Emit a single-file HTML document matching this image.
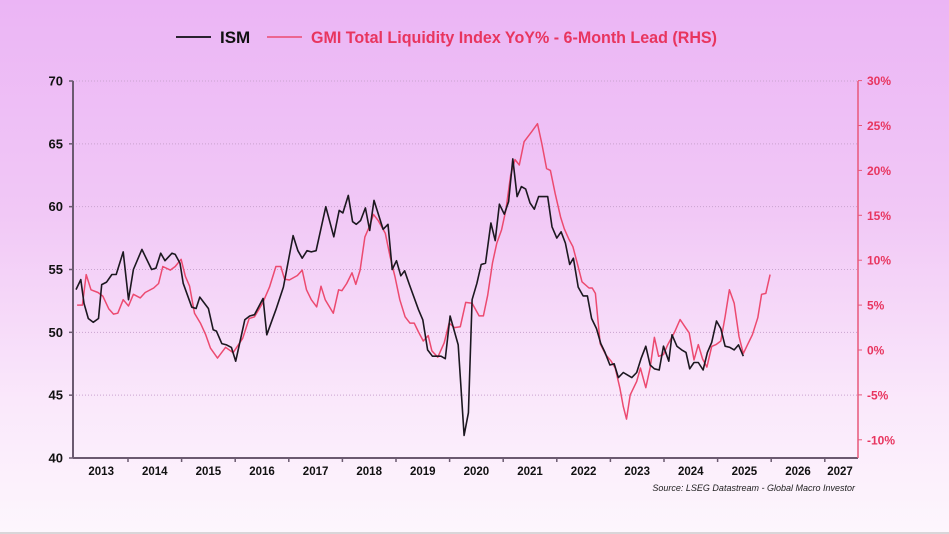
<!DOCTYPE html>
<html><head><meta charset="utf-8"><style>
html,body{margin:0;padding:0;}
body{width:949px;height:534px;overflow:hidden;background:linear-gradient(#ebb5f5 0%,#f1c8f6 40%,#fae8fb 75%,#fdf6fd 100%);font-family:"Liberation Sans",sans-serif;position:relative;}
svg{position:absolute;left:0;top:0;}
</style></head><body>
<svg width="949" height="534">
<rect x="0" y="532" width="949" height="2" fill="#d9d6d9"/>
<g id="grid"></g><g id="axes"></g><g id="series"></g>
<g>
<line x1="176" y1="37" x2="211" y2="37" stroke="#2a2230" stroke-width="2"/>
<text x="220" y="43" font-size="17" font-weight="bold" fill="#111">ISM</text>
<line x1="267" y1="37" x2="302" y2="37" stroke="#ec4a70" stroke-width="1.5"/>
<text x="311" y="43" font-size="17" font-weight="bold" fill="#e8355f" textLength="406" lengthAdjust="spacingAndGlyphs">GMI Total Liquidity Index YoY% - 6-Month Lead (RHS)</text>
</g>
<text x="855" y="491" font-size="9" font-style="italic" fill="#222" text-anchor="end">Source: LSEG Datastream - Global Macro Investor</text>
</svg>
<script>
const leftTicks=[70,65,60,55,50,45,40];
const rightTicks=[30,25,20,15,10,5,0,-5,-10];
const years=[2013,2014,2015,2016,2017,2018,2019,2020,2021,2022,2023,2024,2025,2026,2027];
const ismDates=[0.03,0.12,0.18,0.26,0.35,0.45,0.51,0.60,0.70,0.78,0.91,1.01,1.10,1.26,1.44,1.52,1.61,1.69,1.82,1.88,1.97,2.03,2.19,2.27,2.34,2.50,2.59,2.65,2.75,2.84,2.93,3.01,3.18,3.27,3.36,3.52,3.59,3.69,3.76,3.90,4.08,4.17,4.25,4.34,4.42,4.51,4.69,4.84,4.94,5.01,5.11,5.19,5.26,5.34,5.43,5.51,5.59,5.76,5.85,5.93,6.01,6.09,6.16,6.25,6.42,6.50,6.59,6.68,6.84,6.92,7.01,7.16,7.27,7.35,7.42,7.51,7.59,7.67,7.77,7.85,7.93,8.02,8.10,8.18,8.26,8.34,8.42,8.50,8.58,8.66,8.83,8.91,9.00,9.08,9.16,9.24,9.31,9.40,9.49,9.57,9.65,9.74,9.82,9.90,9.99,10.07,10.15,10.24,10.32,10.40,10.49,10.57,10.66,10.74,10.82,10.91,10.99,11.09,11.15,11.24,11.33,11.41,11.48,11.56,11.64,11.73,11.81,11.89,11.98,12.06,12.14,12.23,12.31,12.39,12.48];
const ismVals=[53.4,54.2,52.3,51.1,50.8,51.1,53.8,54.0,54.6,54.6,56.4,52.6,55.0,56.6,55.0,55.1,56.3,55.7,56.3,56.2,55.5,53.9,52.0,51.9,52.8,51.9,50.2,50.1,49.1,49.0,48.8,47.7,51.0,51.3,51.4,52.7,49.8,51.0,51.8,53.6,57.7,56.5,55.9,56.5,56.4,56.5,60.0,57.6,59.7,59.5,60.9,58.8,58.6,58.9,59.9,58.1,60.5,58.2,58.6,55.0,55.7,54.5,54.9,53.8,51.8,51.0,48.6,48.1,48.1,47.9,51.3,49.0,41.8,43.6,52.6,53.9,55.4,55.5,58.7,57.3,60.2,59.4,60.4,63.8,60.8,61.6,61.4,60.3,59.8,60.8,60.8,58.4,57.5,58.0,57.1,55.4,55.9,53.6,52.9,52.9,51.1,50.3,49.1,48.4,47.4,47.5,46.4,46.8,46.6,46.4,46.8,47.9,48.9,47.4,47.1,47.0,48.9,47.7,49.8,48.9,48.6,48.4,47.1,47.6,47.6,47.0,48.4,49.2,50.9,50.3,48.9,48.8,48.6,49.0,48.1];
const gmiDates=[0.05,0.15,0.22,0.31,0.44,0.53,0.64,0.73,0.81,0.91,1.01,1.10,1.23,1.32,1.48,1.57,1.65,1.79,1.88,1.99,2.07,2.15,2.24,2.35,2.45,2.54,2.67,2.82,2.96,3.04,3.14,3.26,3.36,3.51,3.64,3.76,3.85,3.92,4.01,4.16,4.25,4.33,4.42,4.52,4.60,4.68,4.83,4.93,4.99,5.08,5.18,5.25,5.33,5.42,5.50,5.58,5.67,5.80,5.89,5.98,6.07,6.17,6.26,6.34,6.42,6.51,6.60,6.67,6.78,6.90,6.99,7.09,7.20,7.30,7.42,7.55,7.63,7.71,7.80,7.88,7.97,8.05,8.14,8.22,8.30,8.39,8.53,8.64,8.72,8.81,8.88,8.97,9.07,9.14,9.22,9.30,9.38,9.47,9.60,9.66,9.72,9.81,9.91,10.01,10.09,10.18,10.24,10.30,10.37,10.49,10.56,10.66,10.74,10.82,10.90,10.99,11.07,11.19,11.30,11.39,11.47,11.56,11.64,11.72,11.80,11.89,11.97,12.06,12.14,12.22,12.31,12.40,12.48,12.56,12.65,12.75,12.82,12.90,12.98];
const gmiVals=[5.0,5.0,8.4,6.7,6.4,6.0,4.6,4.0,4.1,5.6,4.9,6.2,5.8,6.4,6.9,7.4,9.3,8.9,9.3,10.1,8.2,7.1,4.1,3.0,1.7,0.2,-0.9,0.3,-0.3,0.4,1.3,3.5,3.7,5.2,7.0,9.3,9.3,7.9,7.8,8.3,8.9,6.7,5.6,4.8,7.1,5.6,4.1,6.7,6.6,7.4,8.6,7.3,8.9,12.6,13.7,15.1,14.4,13.0,10.4,8.2,5.6,3.7,3.0,3.0,2.0,1.0,1.6,-0.1,-0.8,0.8,3.0,2.5,2.6,5.3,5.2,3.8,3.8,6.1,9.7,11.9,13.4,15.6,19.5,21.2,20.6,23.2,24.3,25.2,23.0,20.2,20.0,17.4,14.8,13.5,12.4,11.5,9.7,7.6,6.9,6.9,6.3,0.7,-0.5,-1.2,-2.0,-4.3,-6.3,-7.7,-5.0,-3.5,-2.0,-4.2,-2.0,1.4,-0.7,-0.5,0.6,1.9,3.4,2.6,1.9,-1.1,0.6,-1.0,-1.9,0.4,0.6,1.0,3.7,6.7,5.2,1.5,-0.4,0.6,1.7,3.6,6.2,6.3,8.4];

const NS="http://www.w3.org/2000/svg";
const X0=74.4, PX_YEAR=53.6, L=73, R=858, T=81, B=458;
const xs=d=>X0+d*PX_YEAR;
const yL=v=>T+(70-v)*(B-T)/30;
const yR=v=>350-v*8.98;
function mk(tag,attrs,parent){const e=document.createElementNS(NS,tag);for(const k in attrs)e.setAttribute(k,attrs[k]);parent.appendChild(e);return e;}
const grid=document.getElementById('grid'),axes=document.getElementById('axes'),series=document.getElementById('series');
leftTicks.forEach(v=>{
  const y=yL(v);
  if(v>40){const g=mk('line',{x1:L,x2:R,y1:y,y2:y,stroke:'#c9a3cf','stroke-width':1,'stroke-dasharray':'1,2'},grid);
  
  }
  const t=mk('line',{x1:L-4,x2:L,y1:y,y2:y,stroke:'#6b5a70','stroke-width':1.5},axes);
  
  
  const lb=mk('text',{x:63,y:y+4.5,'font-size':13,'font-weight':'bold','text-anchor':'end',fill:'#111'},axes);
  lb.textContent=v;
  
  
});
rightTicks.forEach(v=>{
  const y=yR(v);
  const t=mk('line',{x1:R,x2:R+4,y1:y,y2:y,stroke:'#e8587a','stroke-width':1},axes);
  
  
  const lb=mk('text',{x:867,y:y+4.5,'font-size':12,'font-weight':'bold',fill:'#e8355f'},axes);
  lb.textContent=v+'%';
  
  
});
years.forEach((yr,i)=>{
  const xt=xs(i+1);
  if(xt<R){const t=mk('line',{x1:xt,x2:xt,y1:B,y2:B+4,stroke:'#6b5a70','stroke-width':1.5},axes);
  
  }
  const cx=Math.min(xs(i+0.5),840);
  const lb=mk('text',{x:cx,y:475,'font-size':11.5,'font-weight':'bold','text-anchor':'middle',fill:'#111'},axes);
  lb.textContent=yr;
  
  
});
const la=mk('line',{x1:L,x2:L,y1:T,y2:B,stroke:'#6b5a70','stroke-width':2},axes);


const ba=mk('line',{x1:L,x2:R,y1:B,y2:B,stroke:'#6b5a70','stroke-width':2},axes);


const ra=mk('line',{x1:R,x2:R,y1:T,y2:B,stroke:'#e8587a','stroke-width':1.5},axes);


const gp=mk('polyline',{points:gmiDates.map((d,i)=>xs(d).toFixed(1)+','+yR(gmiVals[i]).toFixed(1)).join(' '),fill:'none',stroke:'#ec4a70','stroke-width':1.5,'stroke-linejoin':'round'},series);


const ip=mk('polyline',{points:ismDates.map((d,i)=>xs(d).toFixed(1)+','+yL(ismVals[i]).toFixed(1)).join(' '),fill:'none',stroke:'#1c1820','stroke-width':1.6,'stroke-linejoin':'round'},series);


</script>
</body></html>
